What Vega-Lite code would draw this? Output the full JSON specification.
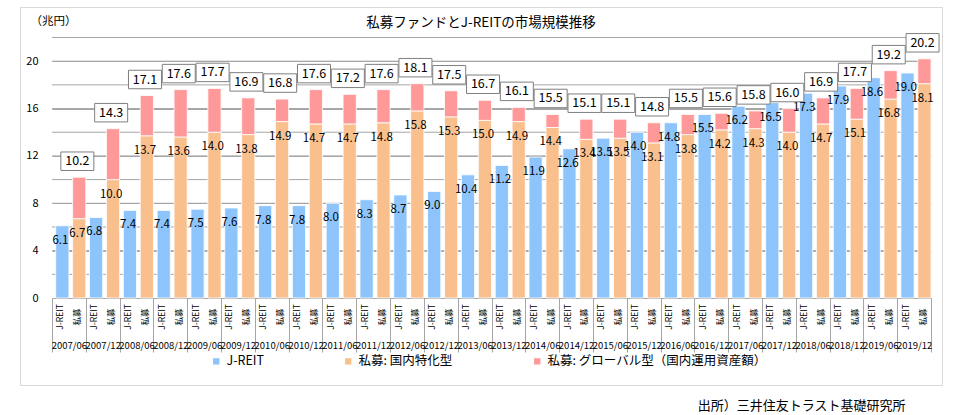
{
  "$schema": "https://vega.github.io/schema/vega-lite/v6.json",
  "width": 922,
  "height": 378,
  "autosize": {"type": "none"},
  "padding": {"left": 20, "top": 7, "right": 18, "bottom": 30},
  "background": "white",
  "config": {
    "font": "Noto Sans CJK JP",
    "view": {"stroke": "#d9d9d9", "strokeWidth": 1},
    "axis": {"labelColor": "#000000", "titleColor": "#000000"},
    "axisY": {"labelOverlap": false, "grid": true, "gridColor": "#a6a6a6", "gridWidth": 1}
  },
  "title": {
    "text": "私募ファンドとJ-REITの市場規模推移",
    "anchor": "middle",
    "frame": "group",
    "orient": "top",
    "offset": 0,
    "baseline": "middle",
    "dy": 29,
    "fontSize": 13.5,
    "fontWeight": "normal",
    "color": "#000000"
  },
  "datasets": {
    "grid": [
      {"tick": 2}, {"tick": 4}, {"tick": 6}, {"tick": 8}, {"tick": 10},
      {"tick": 12}, {"tick": 14}, {"tick": 16}, {"tick": 18}, {"tick": 20}, {"tick": 22}
    ],
    "bars": [
      {"period": "2007/06", "type": "J-REIT", "series": "J-REIT", "value": 6.1},
      {"period": "2007/06", "type": "私募", "series": "私募: 国内特化型", "value": 6.7},
      {"period": "2007/06", "type": "私募", "series": "私募: グローバル型（国内運用資産額）", "value": 3.5},
      {"period": "2007/12", "type": "J-REIT", "series": "J-REIT", "value": 6.8},
      {"period": "2007/12", "type": "私募", "series": "私募: 国内特化型", "value": 10.0},
      {"period": "2007/12", "type": "私募", "series": "私募: グローバル型（国内運用資産額）", "value": 4.3},
      {"period": "2008/06", "type": "J-REIT", "series": "J-REIT", "value": 7.4},
      {"period": "2008/06", "type": "私募", "series": "私募: 国内特化型", "value": 13.7},
      {"period": "2008/06", "type": "私募", "series": "私募: グローバル型（国内運用資産額）", "value": 3.4},
      {"period": "2008/12", "type": "J-REIT", "series": "J-REIT", "value": 7.4},
      {"period": "2008/12", "type": "私募", "series": "私募: 国内特化型", "value": 13.6},
      {"period": "2008/12", "type": "私募", "series": "私募: グローバル型（国内運用資産額）", "value": 4.0},
      {"period": "2009/06", "type": "J-REIT", "series": "J-REIT", "value": 7.5},
      {"period": "2009/06", "type": "私募", "series": "私募: 国内特化型", "value": 14.0},
      {"period": "2009/06", "type": "私募", "series": "私募: グローバル型（国内運用資産額）", "value": 3.7},
      {"period": "2009/12", "type": "J-REIT", "series": "J-REIT", "value": 7.6},
      {"period": "2009/12", "type": "私募", "series": "私募: 国内特化型", "value": 13.8},
      {"period": "2009/12", "type": "私募", "series": "私募: グローバル型（国内運用資産額）", "value": 3.1},
      {"period": "2010/06", "type": "J-REIT", "series": "J-REIT", "value": 7.8},
      {"period": "2010/06", "type": "私募", "series": "私募: 国内特化型", "value": 14.9},
      {"period": "2010/06", "type": "私募", "series": "私募: グローバル型（国内運用資産額）", "value": 1.9},
      {"period": "2010/12", "type": "J-REIT", "series": "J-REIT", "value": 7.8},
      {"period": "2010/12", "type": "私募", "series": "私募: 国内特化型", "value": 14.7},
      {"period": "2010/12", "type": "私募", "series": "私募: グローバル型（国内運用資産額）", "value": 2.9},
      {"period": "2011/06", "type": "J-REIT", "series": "J-REIT", "value": 8.0},
      {"period": "2011/06", "type": "私募", "series": "私募: 国内特化型", "value": 14.7},
      {"period": "2011/06", "type": "私募", "series": "私募: グローバル型（国内運用資産額）", "value": 2.5},
      {"period": "2011/12", "type": "J-REIT", "series": "J-REIT", "value": 8.3},
      {"period": "2011/12", "type": "私募", "series": "私募: 国内特化型", "value": 14.8},
      {"period": "2011/12", "type": "私募", "series": "私募: グローバル型（国内運用資産額）", "value": 2.8},
      {"period": "2012/06", "type": "J-REIT", "series": "J-REIT", "value": 8.7},
      {"period": "2012/06", "type": "私募", "series": "私募: 国内特化型", "value": 15.8},
      {"period": "2012/06", "type": "私募", "series": "私募: グローバル型（国内運用資産額）", "value": 2.3},
      {"period": "2012/12", "type": "J-REIT", "series": "J-REIT", "value": 9.0},
      {"period": "2012/12", "type": "私募", "series": "私募: 国内特化型", "value": 15.3},
      {"period": "2012/12", "type": "私募", "series": "私募: グローバル型（国内運用資産額）", "value": 2.2},
      {"period": "2013/06", "type": "J-REIT", "series": "J-REIT", "value": 10.4},
      {"period": "2013/06", "type": "私募", "series": "私募: 国内特化型", "value": 15.0},
      {"period": "2013/06", "type": "私募", "series": "私募: グローバル型（国内運用資産額）", "value": 1.7},
      {"period": "2013/12", "type": "J-REIT", "series": "J-REIT", "value": 11.2},
      {"period": "2013/12", "type": "私募", "series": "私募: 国内特化型", "value": 14.9},
      {"period": "2013/12", "type": "私募", "series": "私募: グローバル型（国内運用資産額）", "value": 1.2},
      {"period": "2014/06", "type": "J-REIT", "series": "J-REIT", "value": 11.9},
      {"period": "2014/06", "type": "私募", "series": "私募: 国内特化型", "value": 14.4},
      {"period": "2014/06", "type": "私募", "series": "私募: グローバル型（国内運用資産額）", "value": 1.1},
      {"period": "2014/12", "type": "J-REIT", "series": "J-REIT", "value": 12.6},
      {"period": "2014/12", "type": "私募", "series": "私募: 国内特化型", "value": 13.4},
      {"period": "2014/12", "type": "私募", "series": "私募: グローバル型（国内運用資産額）", "value": 1.7},
      {"period": "2015/06", "type": "J-REIT", "series": "J-REIT", "value": 13.5},
      {"period": "2015/06", "type": "私募", "series": "私募: 国内特化型", "value": 13.5},
      {"period": "2015/06", "type": "私募", "series": "私募: グローバル型（国内運用資産額）", "value": 1.6},
      {"period": "2015/12", "type": "J-REIT", "series": "J-REIT", "value": 14.0},
      {"period": "2015/12", "type": "私募", "series": "私募: 国内特化型", "value": 13.1},
      {"period": "2015/12", "type": "私募", "series": "私募: グローバル型（国内運用資産額）", "value": 1.7},
      {"period": "2016/06", "type": "J-REIT", "series": "J-REIT", "value": 14.8},
      {"period": "2016/06", "type": "私募", "series": "私募: 国内特化型", "value": 13.8},
      {"period": "2016/06", "type": "私募", "series": "私募: グローバル型（国内運用資産額）", "value": 1.7},
      {"period": "2016/12", "type": "J-REIT", "series": "J-REIT", "value": 15.5},
      {"period": "2016/12", "type": "私募", "series": "私募: 国内特化型", "value": 14.2},
      {"period": "2016/12", "type": "私募", "series": "私募: グローバル型（国内運用資産額）", "value": 1.4},
      {"period": "2017/06", "type": "J-REIT", "series": "J-REIT", "value": 16.2},
      {"period": "2017/06", "type": "私募", "series": "私募: 国内特化型", "value": 14.3},
      {"period": "2017/06", "type": "私募", "series": "私募: グローバル型（国内運用資産額）", "value": 1.5},
      {"period": "2017/12", "type": "J-REIT", "series": "J-REIT", "value": 16.5},
      {"period": "2017/12", "type": "私募", "series": "私募: 国内特化型", "value": 14.0},
      {"period": "2017/12", "type": "私募", "series": "私募: グローバル型（国内運用資産額）", "value": 2.0},
      {"period": "2018/06", "type": "J-REIT", "series": "J-REIT", "value": 17.3},
      {"period": "2018/06", "type": "私募", "series": "私募: 国内特化型", "value": 14.7},
      {"period": "2018/06", "type": "私募", "series": "私募: グローバル型（国内運用資産額）", "value": 2.2},
      {"period": "2018/12", "type": "J-REIT", "series": "J-REIT", "value": 17.9},
      {"period": "2018/12", "type": "私募", "series": "私募: 国内特化型", "value": 15.1},
      {"period": "2018/12", "type": "私募", "series": "私募: グローバル型（国内運用資産額）", "value": 2.6},
      {"period": "2019/06", "type": "J-REIT", "series": "J-REIT", "value": 18.6},
      {"period": "2019/06", "type": "私募", "series": "私募: 国内特化型", "value": 16.8},
      {"period": "2019/06", "type": "私募", "series": "私募: グローバル型（国内運用資産額）", "value": 2.4},
      {"period": "2019/12", "type": "J-REIT", "series": "J-REIT", "value": 19.0},
      {"period": "2019/12", "type": "私募", "series": "私募: 国内特化型", "value": 18.1},
      {"period": "2019/12", "type": "私募", "series": "私募: グローバル型（国内運用資産額）", "value": 2.1}
    ],
    "totals": [
      {"period": "2007/06", "type": "私募", "total": 10.2},
      {"period": "2007/12", "type": "私募", "total": 14.3},
      {"period": "2008/06", "type": "私募", "total": 17.1},
      {"period": "2008/12", "type": "私募", "total": 17.6},
      {"period": "2009/06", "type": "私募", "total": 17.7},
      {"period": "2009/12", "type": "私募", "total": 16.9},
      {"period": "2010/06", "type": "私募", "total": 16.8},
      {"period": "2010/12", "type": "私募", "total": 17.6},
      {"period": "2011/06", "type": "私募", "total": 17.2},
      {"period": "2011/12", "type": "私募", "total": 17.6},
      {"period": "2012/06", "type": "私募", "total": 18.1},
      {"period": "2012/12", "type": "私募", "total": 17.5},
      {"period": "2013/06", "type": "私募", "total": 16.7},
      {"period": "2013/12", "type": "私募", "total": 16.1},
      {"period": "2014/06", "type": "私募", "total": 15.5},
      {"period": "2014/12", "type": "私募", "total": 15.1},
      {"period": "2015/06", "type": "私募", "total": 15.1},
      {"period": "2015/12", "type": "私募", "total": 14.8},
      {"period": "2016/06", "type": "私募", "total": 15.5},
      {"period": "2016/12", "type": "私募", "total": 15.6},
      {"period": "2017/06", "type": "私募", "total": 15.8},
      {"period": "2017/12", "type": "私募", "total": 16.0},
      {"period": "2018/06", "type": "私募", "total": 16.9},
      {"period": "2018/12", "type": "私募", "total": 17.7},
      {"period": "2019/06", "type": "私募", "total": 19.2},
      {"period": "2019/12", "type": "私募", "total": 20.2}
    ]
  },
  "layer": [
    {
      "data": {"name": "grid"},
      "mark": {"type": "rule", "color": "#a6a6a6", "strokeWidth": 1},
      "encoding": {
        "x": {"datum": "2007/06", "type": "nominal", "bandPosition": 0},
        "x2": {"datum": "2019/12", "bandPosition": 1},
        "y": {
          "field": "tick", "type": "quantitative",
          "axis": {
            "title": "（兆円）", "titleAngle": 0, "titleAlign": "left", "titleBaseline": "middle",
            "titleX": -22, "titleY": 14, "titleFontSize": 11.5, "titleFontWeight": "normal",
            "offset": -32, "orient": "left",
            "values": [0, 2, 4, 6, 8, 10, 12, 14, 16, 18, 20, 22],
            "domain": false, "ticks": false, "tickSize": 0,
            "labelPadding": 14, "labelFontSize": 11, "labelOverlap": false,
            "grid": true, "gridColor": "#a6a6a6", "gridWidth": 1
          }
        }
      }
    },
    {
      "data": {"name": "bars"},
      "mark": {"type": "bar", "width": {"band": 0.78}, "stroke": "#ffffff", "strokeWidth": 0.8},
      "encoding": {
        "x": {
          "field": "period", "type": "nominal", "sort": null,
          "scale": {
            "domain": ["2007/06", "2007/12", "2008/06", "2008/12", "2009/06", "2009/12", "2010/06", "2010/12", "2011/06", "2011/12", "2012/06", "2012/12", "2013/06", "2013/12", "2014/06", "2014/12", "2015/06", "2015/12", "2016/06", "2016/12", "2017/06", "2017/12", "2018/06", "2018/12", "2019/06", "2019/12"],
            "range": [32, 911], "paddingInner": 0, "paddingOuter": 0
          },
          "axis": {
            "title": "出所）三井住友トラスト基礎研究所",
            "titleAlign": "right", "titleBaseline": "middle", "titleX": 885, "titleY": 107,
            "titleFontSize": 13, "titleFontWeight": "normal",
            "orient": "bottom", "offset": -87,
            "domain": true, "domainColor": "#a6a6a6", "domainWidth": 1,
            "ticks": true, "tickBand": "extent", "tickSize": 54,
            "tickColor": "#a6a6a6", "tickWidth": 1,
            "labelAngle": 0, "labelAlign": "center", "labelBaseline": "middle",
            "labelPadding": -7, "labelFontSize": 9.5, "labelOverlap": false,
            "grid": false
          }
        },
        "xOffset": {
          "field": "type", "type": "nominal",
          "scale": {"domain": ["J-REIT", "私募"], "paddingInner": 0, "paddingOuter": 0}
        },
        "y": {
          "field": "value", "type": "quantitative", "stack": "zero",
          "scale": {"domain": [0, 22], "range": [291, 30.5], "nice": false, "zero": true},
          "axis": {
            "title": "（兆円）", "titleAngle": 0, "titleAlign": "left", "titleBaseline": "middle",
            "titleX": -22, "titleY": 14, "titleFontSize": 11.5, "titleFontWeight": "normal",
            "offset": -32, "orient": "left",
            "values": [0, 2, 4, 6, 8, 10, 12, 14, 16, 18, 20, 22],
            "domain": false, "ticks": false, "tickSize": 0,
            "labelPadding": 14, "labelFontSize": 11, "labelOverlap": false,
            "grid": true, "gridColor": "#a6a6a6", "gridWidth": 1
          }
        },
        "color": {
          "field": "series", "type": "nominal",
          "scale": {
            "domain": ["J-REIT", "私募: 国内特化型", "私募: グローバル型（国内運用資産額）"],
            "range": ["#8cc4fb", "#f9c08e", "#ff9999"]
          },
          "legend": {
            "title": null, "orient": "none", "direction": "horizontal",
            "legendX": 190, "legendY": 348,
            "symbolType": "square", "symbolSize": 40, "symbolStrokeWidth": 0,
            "labelFontSize": 12.5, "labelOffset": 4, "columnPadding": 78,
            "labelColor": "#000000", "labelLimit": 400
          }
        },
        "order": {"field": "series", "sort": "descending"}
      }
    },
    {
      "data": {"name": "bars"},
      "transform": [{"filter": {"field": "series", "oneOf": ["J-REIT", "私募: 国内特化型"]}}],
      "mark": {"type": "text", "baseline": "middle", "align": "center", "dy": 15, "fontSize": 11.5, "color": "#000000"},
      "encoding": {
        "x": {"field": "period", "type": "nominal", "sort": null},
        "xOffset": {"field": "type", "type": "nominal"},
        "y": {
          "field": "value", "type": "quantitative", "stack": null,
          "axis": {
            "title": "（兆円）", "titleAngle": 0, "titleAlign": "left", "titleBaseline": "middle",
            "titleX": -22, "titleY": 14, "titleFontSize": 11.5, "titleFontWeight": "normal",
            "offset": -32, "orient": "left",
            "values": [0, 2, 4, 6, 8, 10, 12, 14, 16, 18, 20, 22],
            "domain": false, "ticks": false, "tickSize": 0,
            "labelPadding": 14, "labelFontSize": 11, "labelOverlap": false,
            "grid": true, "gridColor": "#a6a6a6", "gridWidth": 1
          }
        },
        "text": {"field": "value", "type": "quantitative", "format": ".1f"}
      }
    },
    {
      "data": {"name": "bars"},
      "transform": [{"filter": {"field": "series", "oneOf": ["J-REIT", "私募: 国内特化型"]}}],
      "mark": {"type": "text", "baseline": "middle", "align": "center", "angle": 270, "fontSize": 8.5, "color": "#000000"},
      "encoding": {
        "x": {"field": "period", "type": "nominal", "sort": null},
        "xOffset": {"field": "type", "type": "nominal"},
        "y": {"datum": -1.6, "type": "quantitative"},
        "text": {"field": "type", "type": "nominal"}
      }
    },
    {
      "data": {"name": "totals"},
      "mark": {"type": "point", "shape": "M-1,-0.56L1,-0.56L1,0.56L-1,0.56Z", "size": 1089, "filled": true, "fill": "#ffffff", "stroke": "#7f7f7f", "strokeWidth": 1, "opacity": 1, "yOffset": -16},
      "encoding": {
        "x": {"field": "period", "type": "nominal", "sort": null},
        "xOffset": {"field": "type", "type": "nominal"},
        "y": {
          "field": "total", "type": "quantitative",
          "axis": {
            "title": "（兆円）", "titleAngle": 0, "titleAlign": "left", "titleBaseline": "middle",
            "titleX": -22, "titleY": 14, "titleFontSize": 11.5, "titleFontWeight": "normal",
            "offset": -32, "orient": "left",
            "values": [0, 2, 4, 6, 8, 10, 12, 14, 16, 18, 20, 22],
            "domain": false, "ticks": false, "tickSize": 0,
            "labelPadding": 14, "labelFontSize": 11, "labelOverlap": false,
            "grid": true, "gridColor": "#a6a6a6", "gridWidth": 1
          }
        }
      }
    },
    {
      "data": {"name": "totals"},
      "mark": {"type": "text", "baseline": "middle", "align": "center", "dy": -16, "fontSize": 12.5, "color": "#000000"},
      "encoding": {
        "x": {"field": "period", "type": "nominal", "sort": null},
        "xOffset": {"field": "type", "type": "nominal"},
        "y": {
          "field": "total", "type": "quantitative",
          "axis": {
            "title": "（兆円）", "titleAngle": 0, "titleAlign": "left", "titleBaseline": "middle",
            "titleX": -22, "titleY": 14, "titleFontSize": 11.5, "titleFontWeight": "normal",
            "offset": -32, "orient": "left",
            "values": [0, 2, 4, 6, 8, 10, 12, 14, 16, 18, 20, 22],
            "domain": false, "ticks": false, "tickSize": 0,
            "labelPadding": 14, "labelFontSize": 11, "labelOverlap": false,
            "grid": true, "gridColor": "#a6a6a6", "gridWidth": 1
          }
        },
        "text": {"field": "total", "type": "quantitative", "format": ".1f"}
      }
    }
  ]
}
